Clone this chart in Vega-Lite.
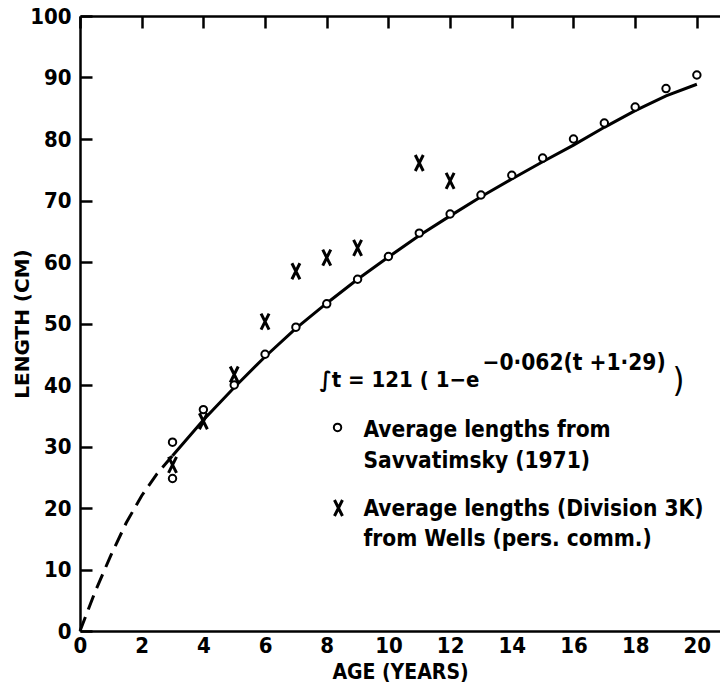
{
  "$schema": "https://vega.github.io/schema/vega-lite/v6.json",
  "width": 640,
  "height": 615,
  "autosize": {"type": "none"},
  "padding": {"left": 80, "top": 16, "right": 0, "bottom": 69},
  "background": "white",
  "config": {
    "view": {"stroke": null},
    "font": "DejaVu Sans Condensed, DejaVu Sans",
    "axis": {
      "domainColor": "black",
      "domainWidth": 2.5,
      "ticks": false,
      "labelColor": "black",
      "labelFont": "DejaVu Sans Condensed, DejaVu Sans",
      "labelFontSize": 22,
      "labelFontWeight": "bold",
      "labelFlush": false,
      "labelOverlap": false,
      "titleColor": "black",
      "titleFont": "DejaVu Sans Condensed, DejaVu Sans",
      "titleFontWeight": "bold",
      "grid": true,
      "gridColor": "black",
      "gridWidth": 2.5,
      "gridOpacity": 1,
      "gridDash": [12, 3000]
    }
  },
  "datasets": {
    "fitDashed": [
      {"age": 0, "length": 0},
      {"age": 0.5, "length": 6.5},
      {"age": 1, "length": 12.3},
      {"age": 1.5, "length": 17.6},
      {"age": 2, "length": 22.0},
      {"age": 2.5, "length": 25.6},
      {"age": 3, "length": 28.5}
    ],
    "fitSolid": [
      {"age": 3, "length": 28.5},
      {"age": 4, "length": 34.3},
      {"age": 5, "length": 39.6},
      {"age": 6, "length": 44.6},
      {"age": 7, "length": 49.2},
      {"age": 8, "length": 53.3},
      {"age": 9, "length": 57.2},
      {"age": 10, "length": 60.8},
      {"age": 11, "length": 64.3},
      {"age": 12, "length": 67.5},
      {"age": 13, "length": 70.6},
      {"age": 14, "length": 73.5},
      {"age": 15, "length": 76.3},
      {"age": 16, "length": 79.0},
      {"age": 17, "length": 81.9},
      {"age": 18, "length": 84.6},
      {"age": 19, "length": 87.0},
      {"age": 20, "length": 88.9}
    ],
    "savvatimsky": [
      {"age": 3, "length": 30.7},
      {"age": 3, "length": 24.8},
      {"age": 4, "length": 36.0},
      {"age": 5, "length": 40.0},
      {"age": 6, "length": 45.0},
      {"age": 7, "length": 49.4},
      {"age": 8, "length": 53.2},
      {"age": 9, "length": 57.2},
      {"age": 10, "length": 60.9},
      {"age": 11, "length": 64.7},
      {"age": 12, "length": 67.8},
      {"age": 13, "length": 70.9},
      {"age": 14, "length": 74.1},
      {"age": 15, "length": 76.9},
      {"age": 16, "length": 80.0},
      {"age": 17, "length": 82.6},
      {"age": 18, "length": 85.2},
      {"age": 19, "length": 88.2},
      {"age": 20, "length": 90.4},
      {"age": 8.35, "length": 33.1}
    ],
    "wells": [
      {"age": 3, "length": 27.0},
      {"age": 4, "length": 34.1},
      {"age": 5, "length": 41.7},
      {"age": 6, "length": 50.3},
      {"age": 7, "length": 58.5},
      {"age": 8, "length": 60.7},
      {"age": 9, "length": 62.3},
      {"age": 11, "length": 76.1},
      {"age": 12, "length": 73.2},
      {"age": 8.38, "length": 20.0}
    ],
    "notesFormula": [
      {"age": 12.95, "length": 40.85, "text": "∫t = 121 ( 1−e"}
    ],
    "notesMain": [
      {"age": 9.19, "length": 32.7, "text": "Average lengths from"},
      {"age": 9.19, "length": 27.6, "text": "Savvatimsky (1971)"},
      {"age": 9.19, "length": 19.9, "text": "Average lengths (Division 3K)"},
      {"age": 9.19, "length": 15.0, "text": "from Wells  (pers. comm.)"}
    ],
    "notesSup": [
      {"age": 13.05, "length": 43.6, "text": "−0·062(t +1·29)"}
    ],
    "notesParen": [
      {"age": 19.4, "length": 40.5, "text": ")"}
    ]
  },
  "layer": [
    {
      "data": {"name": "fitDashed"},
      "mark": {"type": "line", "color": "black", "strokeWidth": 3, "strokeDash": [15, 8]},
      "encoding": {
        "x": {"field": "age", "type": "quantitative", "scale": {"domain": [0, 20.75], "nice": false},
          "axis": {"orient": "bottom", "values": [0, 2, 4, 6, 8, 10, 12, 14, 16, 18, 20], "title": "AGE (YEARS)", "titleFontSize": 21, "labelPadding": 4, "titlePadding": 5}},
        "y": {"field": "length", "type": "quantitative", "scale": {"domain": [0, 100], "nice": false},
          "axis": {"orient": "left", "values": [0, 10, 20, 30, 40, 50, 60, 70, 80, 90, 100], "title": "LENGTH (CM)", "titleFont": "DejaVu Sans", "titleFontSize": 20, "labelPadding": 9, "titlePadding": -3}}
      }
    },
    {
      "data": {"name": "fitSolid"},
      "mark": {"type": "line", "color": "black", "strokeWidth": 3},
      "encoding": {
        "x": {"field": "age", "type": "quantitative", "scale": {"domain": [0, 20.75], "nice": false},
          "axis": {"orient": "top", "labels": false, "title": null, "values": [2, 4, 6, 8, 10, 12, 14, 16, 18, 20]}},
        "y": {"field": "length", "type": "quantitative", "scale": {"domain": [0, 100], "nice": false},
          "axis": {"orient": "right", "labels": false, "title": null, "domain": false, "values": [10, 20, 30, 40, 50, 60, 70, 80, 90], "gridDash": [6, 3000]}}
      }
    },
    {
      "data": {"name": "savvatimsky"},
      "mark": {"type": "point", "shape": "circle", "filled": true, "fill": "white", "stroke": "black", "strokeWidth": 2, "size": 55, "opacity": 1},
      "encoding": {
        "x": {"field": "age", "type": "quantitative", "scale": {"domain": [0, 20.75], "nice": false}, "axis": null},
        "y": {"field": "length", "type": "quantitative", "scale": {"domain": [0, 100], "nice": false}, "axis": null}
      }
    },
    {
      "data": {"name": "wells"},
      "mark": {"type": "point", "shape": "M-0.5,-1L0.5,1M0.5,-1L-0.5,1", "filled": false, "stroke": "black", "strokeWidth": 3, "size": 256, "opacity": 1},
      "encoding": {
        "x": {"field": "age", "type": "quantitative", "scale": {"domain": [0, 20.75], "nice": false}, "axis": null},
        "y": {"field": "length", "type": "quantitative", "scale": {"domain": [0, 100], "nice": false}, "axis": null}
      }
    },
    {
      "data": {"name": "notesFormula"},
      "mark": {"type": "text", "align": "right", "baseline": "middle", "fontSize": 22, "fontWeight": "bold", "color": "black", "font": "DejaVu Sans Condensed, DejaVu Sans"},
      "encoding": {
        "x": {"field": "age", "type": "quantitative", "scale": {"domain": [0, 20.75], "nice": false}, "axis": null},
        "y": {"field": "length", "type": "quantitative", "scale": {"domain": [0, 100], "nice": false}, "axis": null},
        "text": {"field": "text"}
      }
    },
    {
      "data": {"name": "notesMain"},
      "mark": {"type": "text", "align": "left", "baseline": "middle", "fontSize": 22.5, "fontWeight": "bold", "color": "black", "font": "DejaVu Sans Condensed, DejaVu Sans"},
      "encoding": {
        "x": {"field": "age", "type": "quantitative", "scale": {"domain": [0, 20.75], "nice": false}, "axis": null},
        "y": {"field": "length", "type": "quantitative", "scale": {"domain": [0, 100], "nice": false}, "axis": null},
        "text": {"field": "text"}
      }
    },
    {
      "data": {"name": "notesSup"},
      "mark": {"type": "text", "align": "left", "baseline": "middle", "fontSize": 22.5, "fontWeight": "bold", "color": "black", "font": "DejaVu Sans Condensed, DejaVu Sans"},
      "encoding": {
        "x": {"field": "age", "type": "quantitative", "scale": {"domain": [0, 20.75], "nice": false}, "axis": null},
        "y": {"field": "length", "type": "quantitative", "scale": {"domain": [0, 100], "nice": false}, "axis": null},
        "text": {"field": "text"}
      }
    },
    {
      "data": {"name": "notesParen"},
      "mark": {"type": "text", "align": "center", "baseline": "middle", "fontSize": 34, "fontWeight": "normal", "color": "black", "font": "DejaVu Sans Condensed, DejaVu Sans"},
      "encoding": {
        "x": {"field": "age", "type": "quantitative", "scale": {"domain": [0, 20.75], "nice": false}, "axis": null},
        "y": {"field": "length", "type": "quantitative", "scale": {"domain": [0, 100], "nice": false}, "axis": null},
        "text": {"field": "text"}
      }
    }
  ],
  "resolve": {"axis": {"x": "independent", "y": "independent"}}
}
